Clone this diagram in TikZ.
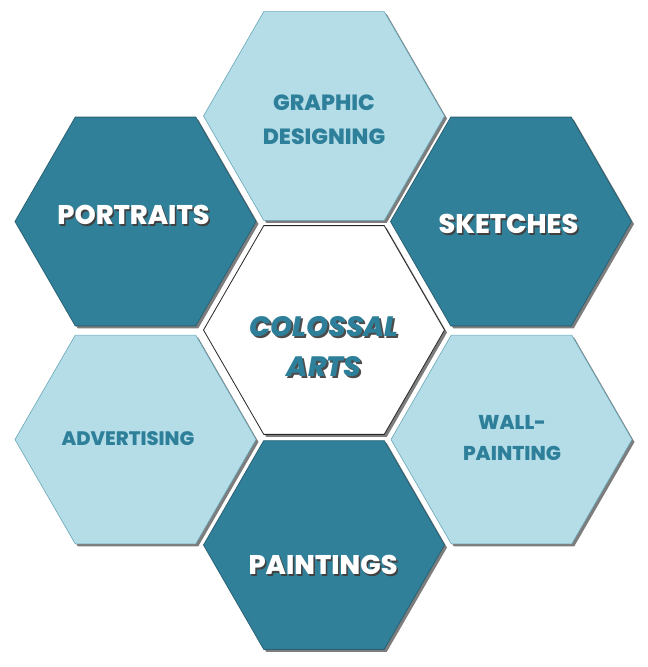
\documentclass[tikz,border=0pt]{standalone}
\usepackage{fontspec}
\setmainfont{Poppins}[BoldFont={* ExtraBold}, BoldItalicFont={* ExtraBold Italic}]
\usetikzlibrary{shapes.geometric,shadows}
\definecolor{darkteal}{HTML}{31809A}
\definecolor{lightblue}{HTML}{B4DDE8}
\definecolor{tealtext}{HTML}{2E7F9A}
\definecolor{darkedge}{HTML}{2A6275}
\definecolor{lightedge}{HTML}{6AA6B7}
\tikzset{
  hexa/.style={regular polygon, regular polygon sides=6,
    minimum size=241pt, inner sep=0pt, outer sep=0pt,
    drop shadow={shadow xshift=2.5pt, shadow yshift=-2.5pt, fill=black!60, opacity=0.85}},
  darkhex/.style={hexa, fill=darkteal, draw=darkedge, line width=0.8pt},
  lighthex/.style={hexa, fill=lightblue, draw=lightedge, line width=0.6pt},
  centerhex/.style={hexa, fill=white, draw=black!85, line width=0.8pt},
  whitelab/.style={font=\bfseries\fontsize{27}{30}\selectfont, text=white, inner sep=0pt},
  whiteshade/.style={whitelab, text=black!75},
  lightlab/.style={font=\bfseries\fontsize{22}{34}\selectfont, text=tealtext, align=center, inner sep=0pt},
  titlelab/.style={font=\bfseries\itshape\fontsize{28}{40}\selectfont, text=tealtext, align=center, inner sep=0pt},
  titleshade/.style={titlelab, text=black!70}
}
\begin{document}
\begin{tikzpicture}[x=1pt,y=-1pt]
\useasboundingbox (0,0) rectangle (648,667);
% hexagons
\node[lighthex] (graphic) at (324,116) {};
\node[darkhex] (portraits) at (135.5,221.5) {};
\node[darkhex] (sketches) at (511,221.5) {};
\node[centerhex] (centre) at (324,330) {};
\node[lighthex] (advertising) at (135.5,439.5) {};
\node[lighthex] (wall) at (511.5,439.5) {};
\node[darkhex] (paintings) at (324,545) {};
% labels
\node[lightlab] (graphicL) at (324,120) {GRAPHIC\\DESIGNING};
\node[whiteshade] (portraitsS) at (135,217) {PORTRAITS};
\node[whitelab] (portraitsL) at (133.5,215) {PORTRAITS};
\node[whiteshade] (sketchesS) at (510,226) {SKETCHES};
\node[whitelab] (sketchesL) at (508.5,224) {SKETCHES};
\node[titleshade] (titleS) at (326,349) {COLOSSAL\\ARTS};
\node[titlelab] (titleL) at (324,347) {COLOSSAL\\ARTS};
\node[lightlab, font=\bfseries\fontsize{19.5}{22}\selectfont] (advertisingL) at (128,439) {ADVERTISING};
\node[lightlab, font=\bfseries\fontsize{20}{31}\selectfont] (wallL) at (512,438) {WALL-\\PAINTING};
\node[whiteshade] (paintingsS) at (324.5,567) {PAINTINGS};
\node[whitelab] (paintingsL) at (323,565) {PAINTINGS};
\end{tikzpicture}
\end{document}
